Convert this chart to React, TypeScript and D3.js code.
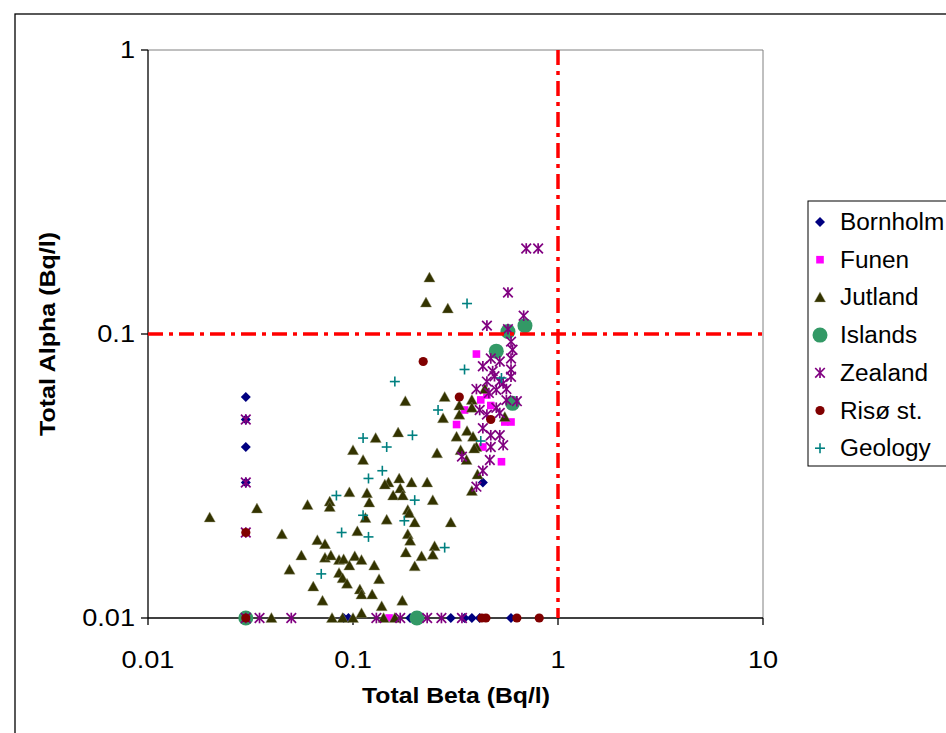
import React from "react";
import * as d3 from "d3";

type P = [number, number];

const xTicks = [0.01, 0.1, 1, 10];
const yTicks = [0.01, 0.1, 1];
const xTickLabels = ["0.01", "0.1", "1", "10"];
const yTickLabels = ["0.01", "0.1", "1"];
const legendLabels = ["Bornholm", "Funen", "Jutland", "Islands", "Zealand", "Risø st.", "Geology"];
const limitX = 1;
const limitY = 0.1;

const bornholm: P[] = [
  [0.03, 0.06], [0.03, 0.05], [0.03, 0.04], [0.03, 0.03], [0.43, 0.03],
  [0.09, 0.01], [0.095, 0.01], [0.19, 0.01], [0.3, 0.01], [0.35, 0.01], [0.38, 0.01], [0.415, 0.01], [0.59, 0.01],
];

const funen: P[] = [
  [0.4, 0.085], [0.32, 0.048], [0.35, 0.054], [0.53, 0.0355], [0.55, 0.049], [0.59, 0.049],
  [0.45, 0.061], [0.42, 0.0586], [0.47, 0.056], [0.43, 0.04], [0.15, 0.01],
];

const jutland: P[] = [
  [0.236, 0.158], [0.227, 0.129], [0.29, 0.123], [0.18, 0.058], [0.28, 0.06], [0.275, 0.0505],
  [0.33, 0.056], [0.33, 0.052], [0.38, 0.0586], [0.38, 0.055], [0.55, 0.051], [0.44, 0.064],
  [0.32, 0.0435], [0.36, 0.0455], [0.385, 0.0435], [0.4, 0.04], [0.39, 0.0395], [0.335, 0.039],
  [0.358, 0.036], [0.257, 0.038], [0.166, 0.045], [0.129, 0.043], [0.1, 0.039], [0.112, 0.036],
  [0.405, 0.032], [0.38, 0.028],
  [0.168, 0.031], [0.149, 0.03], [0.143, 0.0295], [0.17, 0.0286], [0.193, 0.03], [0.23, 0.03],
  [0.157, 0.027], [0.175, 0.027], [0.117, 0.0275], [0.12, 0.0255], [0.096, 0.0277],
  [0.077, 0.0257], [0.077, 0.0246], [0.06, 0.025], [0.034, 0.0243], [0.02, 0.0226],
  [0.185, 0.024], [0.188, 0.0234], [0.245, 0.026], [0.146, 0.0222], [0.2, 0.0217], [0.3, 0.0217],
  [0.115, 0.0225], [0.105, 0.0202], [0.185, 0.0197], [0.19, 0.0187], [0.25, 0.0179], [0.245, 0.0167],
  [0.216, 0.0165], [0.181, 0.017], [0.045, 0.0197], [0.067, 0.0188], [0.073, 0.0182],
  [0.056, 0.0166], [0.073, 0.0163], [0.078, 0.0166], [0.0855, 0.016], [0.09, 0.0161], [0.096, 0.0153],
  [0.102, 0.0165], [0.11, 0.016], [0.127, 0.0153], [0.2, 0.0152], [0.049, 0.0148], [0.0855, 0.0144],
  [0.089, 0.0138], [0.0935, 0.0132], [0.134, 0.0137], [0.064, 0.0129], [0.108, 0.0126], [0.11, 0.0121],
  [0.124, 0.0121], [0.071, 0.0115], [0.174, 0.0115], [0.138, 0.011], [0.11, 0.0104],
  [0.04, 0.01], [0.079, 0.01], [0.089, 0.01], [0.1, 0.01], [0.141, 0.01], [0.16, 0.01],
];

const islands: P[] = [
  [0.03, 0.01], [0.205, 0.01], [0.57, 0.102], [0.69, 0.107], [0.5, 0.087], [0.6, 0.057],
];

const zealand: P[] = [
  [0.7, 0.2], [0.8, 0.2], [0.57, 0.14], [0.68, 0.116], [0.45, 0.107], [0.57, 0.104],
  [0.59, 0.094], [0.6, 0.088], [0.59, 0.082], [0.47, 0.082], [0.52, 0.08], [0.43, 0.077],
  [0.59, 0.0707], [0.48, 0.074], [0.45, 0.068], [0.52, 0.068], [0.56, 0.064], [0.4, 0.064],
  [0.5, 0.0636], [0.46, 0.062], [0.63, 0.058], [0.56, 0.0585], [0.415, 0.054], [0.5, 0.055],
  [0.45, 0.052], [0.52, 0.0527], [0.43, 0.0466], [0.47, 0.044], [0.52, 0.044], [0.54, 0.0406],
  [0.47, 0.04], [0.465, 0.036], [0.34, 0.037], [0.43, 0.033], [0.4, 0.029], [0.49, 0.071],
  [0.54, 0.067], [0.59, 0.075],
  [0.03, 0.05], [0.03, 0.03], [0.03, 0.02], [0.03, 0.01],
  [0.035, 0.01], [0.05, 0.01], [0.13, 0.01], [0.17, 0.01], [0.23, 0.01], [0.27, 0.01], [0.34, 0.01],
];

const riso: P[] = [
  [0.03, 0.02], [0.03, 0.01], [0.22, 0.08], [0.33, 0.06], [0.47, 0.05],
  [0.425, 0.01], [0.445, 0.01], [0.63, 0.01], [0.81, 0.01],
];

const geology: P[] = [
  [0.36, 0.128], [0.35, 0.075], [0.16, 0.068], [0.26, 0.054], [0.195, 0.044], [0.146, 0.04],
  [0.112, 0.043], [0.139, 0.033], [0.119, 0.031], [0.53, 0.07], [0.42, 0.042], [0.2, 0.026],
  [0.083, 0.027], [0.112, 0.023], [0.178, 0.022], [0.088, 0.02], [0.119, 0.0193], [0.28, 0.0177],
  [0.07, 0.0143],
];

const seriesData: P[][] = [bornholm, funen, jutland, islands, zealand, riso, geology];
const seriesKinds = ["diamond", "square", "triangle", "bigcircle", "star", "circle", "plus"];
const seriesColors = ["#000080", "#FF00FF", "#333300", "#339966", "#800080", "#800000", "#008080"];

const FONT = "Arial, 'Liberation Sans', sans-serif";

function Marker({ kind, color, x, y }: { kind: string; color: string; x: number; y: number }) {
  switch (kind) {
    case "diamond":
      return <path d={`M${x},${y - 5}L${x + 5},${y}L${x},${y + 5}L${x - 5},${y}Z`} fill={color} />;
    case "square":
      return <rect x={x - 3.8} y={y - 3.8} width={7.6} height={7.6} fill={color} />;
    case "triangle":
      return (
        <path
          d={`M${x},${y - 5.5}L${x + 5.6},${y + 4.5}L${x - 5.6},${y + 4.5}Z`}
          fill={color}
          stroke="#99997a"
          strokeWidth={0.4}
        />
      );
    case "bigcircle":
      return <circle cx={x} cy={y} r={7.5} fill={color} />;
    case "circle":
      return <circle cx={x} cy={y} r={4.6} fill={color} />;
    case "star": {
      const s = 4.8;
      return (
        <g stroke={color} strokeWidth={1.7}>
          <line x1={x - s} y1={y - s} x2={x + s} y2={y + s} />
          <line x1={x - s} y1={y + s} x2={x + s} y2={y - s} />
          <line x1={x} y1={y - s - 0.5} x2={x} y2={y + s + 0.5} />
        </g>
      );
    }
    case "plus": {
      const s = 5;
      return (
        <g stroke={color} strokeWidth={1.6}>
          <line x1={x - s} y1={y} x2={x + s} y2={y} />
          <line x1={x} y1={y - s} x2={x} y2={y + s} />
        </g>
      );
    }
    default:
      return null;
  }
}

export default function App() {
  const left = 148, right = 763, top = 50, bottom = 618;
  const x = d3.scaleLog().domain([0.01, 10]).range([left, right]);
  const y = d3.scaleLog().domain([0.01, 1]).range([bottom, top]);

  const legX = 808, legY = 201, legH = 265;
  const rowY = (i: number) => 222 + i * 37.7;

  return (
    <svg
      width={946}
      height={733}
      style={{ position: "absolute", left: 0, top: 0, background: "#fff" }}
      fontFamily={FONT}
    >
      <rect x={0} y={0} width={946} height={733} fill="#fff" />
      {/* outer chart frame */}
      <rect x={15} y={14} width={1000} height={1000} fill="none" stroke="#000" strokeWidth={1.3} />

      {/* plot area border (gray) */}
      <line x1={left} y1={top} x2={right} y2={top} stroke="#808080" strokeWidth={1} />
      <line x1={right} y1={top} x2={right} y2={bottom} stroke="#808080" strokeWidth={1} />

      {/* axes */}
      <line x1={left} y1={top} x2={left} y2={bottom} stroke="#000" strokeWidth={1.3} />
      <line x1={left} y1={bottom} x2={right} y2={bottom} stroke="#000" strokeWidth={1.3} />

      {xTicks.map((t, i) => (
        <g key={"xt" + i}>
          <line x1={x(t)} y1={bottom} x2={x(t)} y2={bottom + 7} stroke="#000" strokeWidth={1.3} />
          <text
            transform={`translate(${x(t)},${bottom + 50}) scale(1.18,1)`}
            textAnchor="middle"
            fontSize={23}
            fill="#000"
          >
            {xTickLabels[i]}
          </text>
        </g>
      ))}
      {yTicks.map((t, i) => (
        <g key={"yt" + i}>
          <line x1={left - 7} y1={y(t)} x2={left} y2={y(t)} stroke="#000" strokeWidth={1.3} />
          <text
            transform={`translate(${left - 13},${y(t) + 8}) scale(1.18,1)`}
            textAnchor="end"
            fontSize={23}
            fill="#000"
          >
            {yTickLabels[i]}
          </text>
        </g>
      ))}

      {/* axis titles */}
      <text
        x={456}
        y={703}
        textAnchor="middle"
        fontSize={22}
        fontWeight="bold"
        textLength={188}
        lengthAdjust="spacingAndGlyphs"
      >
        Total Beta (Bq/l)
      </text>
      <text
        transform={`translate(55,334) rotate(-90)`}
        textAnchor="middle"
        fontSize={22}
        fontWeight="bold"
        textLength={204}
        lengthAdjust="spacingAndGlyphs"
      >
        Total Alpha (Bq/l)
      </text>

      {/* series */}
      {seriesData.map((pts, si) => (
        <g key={"s" + si}>
          {pts.map((p, j) => (
            <Marker key={j} kind={seriesKinds[si]} color={seriesColors[si]} x={x(p[0])} y={y(p[1])} />
          ))}
        </g>
      ))}

      {/* reference lines */}
      <line
        x1={x(limitX)}
        y1={top}
        x2={x(limitX)}
        y2={bottom}
        stroke="#FF0000"
        strokeWidth={3.5}
        strokeDasharray="15,6,4,6"
      />
      <line
        x1={left}
        y1={y(limitY)}
        x2={right}
        y2={y(limitY)}
        stroke="#FF0000"
        strokeWidth={3.5}
        strokeDasharray="15,6,4,6"
      />

      {/* legend */}
      <rect x={legX} y={legY} width={200} height={legH} fill="#fff" stroke="#000" strokeWidth={1} />
      {legendLabels.map((lab, i) => (
        <g key={"l" + i}>
          <Marker kind={seriesKinds[i]} color={seriesColors[i]} x={legX + 12} y={rowY(i)} />
          <text
            transform={`translate(${legX + 32},${rowY(i) + 8}) scale(1.06,1)`}
            fontSize={23}
            fill="#000"
          >
            {lab}
          </text>
        </g>
      ))}
    </svg>
  );
}
